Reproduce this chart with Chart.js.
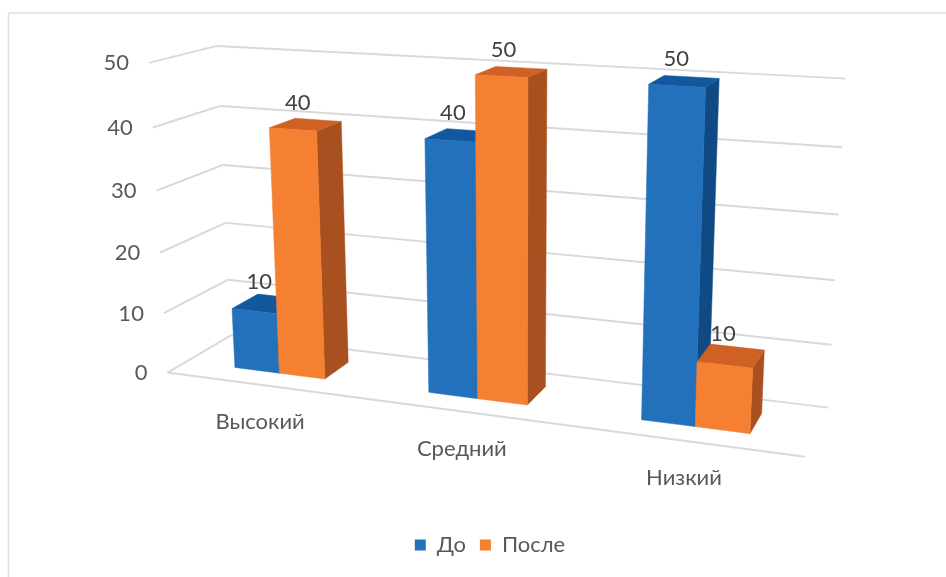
<!DOCTYPE html>
<html>
<head>
<meta charset="utf-8">
<script src="https://cdn.jsdelivr.net/npm/chart.js@4"></script>
<style>
  html, body { margin: 0; background: #fff; }
  canvas { display: block; }
</style>
</head>
<body>
<canvas id="chart" width="946" height="577"></canvas>
<script>
const categories = ['Высокий', 'Средний', 'Низкий'];
const seriesNames = ['До', 'После'];
const beforeValues = [10, 40, 50];
const afterValues = [40, 50, 10];
const yTicks = [0, 10, 20, 30, 40, 50];

const fontFamily = 'Lato, "Open Sans", sans-serif';
const fontSize = 22;
const gridColor = '#d9d9d9';
const faces = [
  { front: '#2271ba', side: '#0f4a84', top: '#11589f' },
  { front: '#f58031', side: '#a95021', top: '#cf6125' }
];

/* ---- 3D view: where the plot box corners land on the picture, [u, v, depth, x, y] ---- */
const viewPoints = [
  [0, 0, 0, 167, 373], [0, .2, 0, 163, 313], [0, .4, 0, 160, 252], [0, .6, 0, 157, 191], [0, .8, 0, 153, 127], [0, 1, 0, 150, 63],
  [0, 0, 1, 233, 335], [0, .2, 1, 228, 280], [0, .4, 1, 225, 223], [0, .6, 1, 222, 165], [0, .8, 1, 219, 106], [0, 1, 1, 217, 46],
  [1, 0, 1, 828, 407], [1, .2, 1, 832, 345], [1, .4, 1, 835, 280], [1, .6, 1, 838, 215], [1, .8, 1, 842, 148], [1, 1, 1, 846, 78],
  [1, 0, 0, 805, 457]
];
const barDepth = [0.29, 0.71];

// least squares fit of the 3x4 camera matrix (last entry fixed to 1)
const fitCamera = (pts) => {
  const n = 11;
  const A = Array.from({ length: n }, () => new Array(n + 1).fill(0));
  const addRow = (row, rhs) => {
    for (let i = 0; i < n; i++) {
      for (let j = 0; j < n; j++) A[i][j] += row[i] * row[j];
      A[i][n] += row[i] * rhs;
    }
  };
  pts.forEach(([u, v, d, x, y]) => {
    addRow([u, v, d, 1, 0, 0, 0, 0, -x * u, -x * v, -x * d], x);
    addRow([0, 0, 0, 0, u, v, d, 1, -y * u, -y * v, -y * d], y);
  });
  for (let c = 0; c < n; c++) {
    let best = c;
    for (let r = c + 1; r < n; r++) if (Math.abs(A[r][c]) > Math.abs(A[best][c])) best = r;
    [A[c], A[best]] = [A[best], A[c]];
    for (let r = 0; r < n; r++) {
      if (r === c) continue;
      const f = A[r][c] / A[c][c];
      for (let k = c; k <= n; k++) A[r][k] -= f * A[c][k];
    }
  }
  return A.map((row, i) => row[n] / row[i]);
};
const cam = fitCamera(viewPoints);
const project = (u, v, d) => {
  const w = cam[8] * u + cam[9] * v + cam[10] * d + 1;
  return [
    (cam[0] * u + cam[1] * v + cam[2] * d + cam[3]) / w,
    (cam[4] * u + cam[5] * v + cam[6] * d + cam[7]) / w
  ];
};

const line = (ctx, a, b) => {
  ctx.beginPath();
  ctx.moveTo(a[0], a[1]);
  ctx.lineTo(b[0], b[1]);
  ctx.stroke();
};
const poly = (ctx, color, pts) => {
  ctx.fillStyle = color;
  ctx.strokeStyle = color;
  ctx.lineWidth = 0.5;
  ctx.beginPath();
  pts.forEach((p, i) => (i ? ctx.lineTo(p[0], p[1]) : ctx.moveTo(p[0], p[1])));
  ctx.closePath();
  ctx.fill();
  ctx.stroke();
};

const perspectivePlugin = {
  id: 'perspective',
  beforeDraw(chart) {
    const { ctx, width, height } = chart;
    ctx.save();
    ctx.strokeStyle = '#e0e0e0';
    ctx.lineWidth = 1.5;
    line(ctx, [8.5, height], [8.5, 13]);
    line(ctx, [8.5, 13], [width, 13]);
    ctx.restore();
  },
  // bars are placed by Chart.js, then pushed through the camera here
  beforeDatasetsDraw(chart) {
    const { ctx, chartArea: area, scales } = chart;
    const yScale = scales.y;
    const toU = (px) => (px - area.left) / area.width;
    const toV = (value) => (yScale.bottom - yScale.getPixelForValue(value)) / yScale.height;
    const [d0, d1] = barDepth;

    ctx.save();
    ctx.strokeStyle = gridColor;
    ctx.lineWidth = 2;
    yTicks.forEach((tick) => {
      const v = toV(tick);
      line(ctx, project(0, v, 0), project(0, v, 1));
      line(ctx, project(0, v, 1), project(1, v, 1));
    });
    line(ctx, project(0, 0, 0), project(1, 0, 0));

    ctx.fillStyle = '#595959';
    ctx.font = fontSize + 'px ' + fontFamily;
    ctx.textBaseline = 'middle';
    ctx.textAlign = 'right';
    yTicks.forEach((tick) => {
      const p = project(0, toV(tick), 0);
      ctx.fillText(String(tick), p[0] - 20, p[1] + 0.5);
    });
    ctx.textAlign = 'center';
    categories.forEach((cat, i) => {
      const p = project(toU(scales.x.getPixelForValue(i)), 0, 0);
      ctx.fillText(cat, p[0] - 1.5, p[1] + 37);
    });

    const labels = [];
    categories.forEach((cat, i) => {
      chart.data.datasets.forEach((ds, s) => {
        const bar = chart.getDatasetMeta(s).data[i];
        const u0 = toU(bar.x - bar.width / 2);
        const u1 = toU(bar.x + bar.width / 2);
        const v = toV(ds.data[i]);
        const f = faces[s];
        poly(ctx, f.side, [project(u1, 0, d0), project(u1, 0, d1), project(u1, v, d1), project(u1, v, d0)]);
        poly(ctx, f.top, [project(u0, v, d0), project(u1, v, d0), project(u1, v, d1), project(u0, v, d1)]);
        poly(ctx, f.front, [project(u0, 0, d0), project(u1, 0, d0), project(u1, v, d0), project(u0, v, d0)]);
        const c = project((u0 + u1) / 2, v, (d0 + d1) / 2);
        labels.push([String(ds.data[i]), c[0] - 8, c[1] - 22]);
      });
    });
    ctx.fillStyle = '#404040';
    labels.forEach(([text, x, y]) => ctx.fillText(text, x, y));
    ctx.restore();
    return false;
  }
};

new Chart(document.getElementById('chart'), {
  type: 'bar',
  plugins: [perspectivePlugin],
  data: {
    labels: categories,
    datasets: [
      { label: seriesNames[0], data: beforeValues, backgroundColor: faces[0].front },
      { label: seriesNames[1], data: afterValues, backgroundColor: faces[1].front }
    ]
  },
  options: {
    responsive: false,
    animation: false,
    layout: { padding: { left: 34, bottom: 11 } },
    datasets: { bar: { categoryPercentage: 0.475, barPercentage: 1 } },
    plugins: {
      tooltip: { enabled: false },
      legend: {
        position: 'bottom',
        labels: {
          boxWidth: 11,
          boxHeight: 11,
          padding: 14,
          color: '#595959',
          font: { family: fontFamily, size: fontSize }
        }
      }
    },
    scales: {
      x: { ticks: { display: false }, grid: { display: false }, border: { display: false } },
      y: {
        min: 0,
        max: 50,
        ticks: { display: false, stepSize: 10 },
        grid: { display: false },
        border: { display: false }
      }
    }
  }
});
</script>
</body>
</html>
